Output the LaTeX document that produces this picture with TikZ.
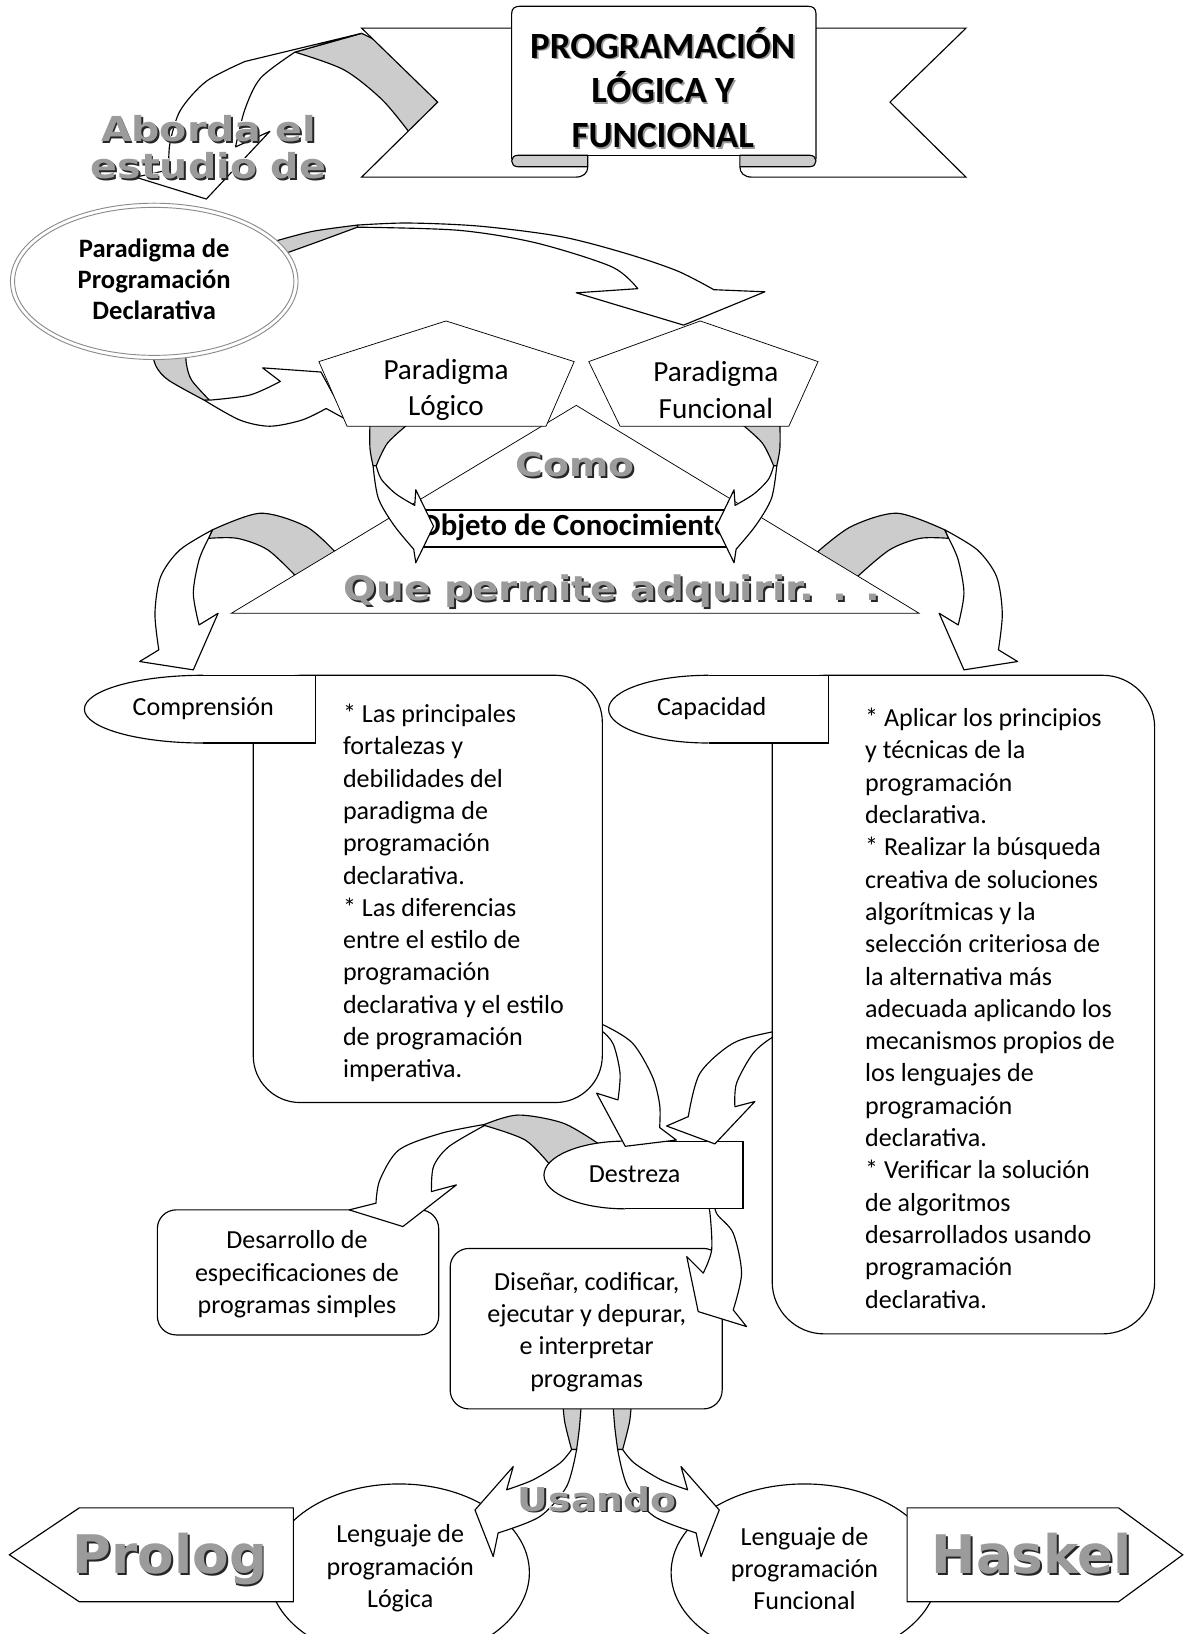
\documentclass[tikz,border=0pt]{standalone}
\usepackage{fontspec}
\setmainfont{Carlito}
\newfontfamily\wafont{DejaVu Sans}
\newfontfamily\wafontw[FakeStretch=1.15]{DejaVu Sans}
\definecolor{facegrey}{RGB}{204,204,204}
\definecolor{wagrey}{RGB}{155,155,155}
\tikzset{
  greyface/.style={fill=facegrey, draw=black, line width=1.1pt, line join=round},
  frontface/.style={fill=white, draw=black, line width=1.1pt, line join=round},
  thinshape/.style={fill=white, draw=black, line width=0.7pt},
  boxshape/.style={fill=white, draw=black, line width=1.1pt},
  bodytext/.style={font=\fontsize{25}{31}\selectfont, inner sep=0pt},
  penttext/.style={font=\fontsize{28}{35}\selectfont, inner sep=0pt, align=center},
  boldtext/.style={font=\bfseries\fontsize{25.5}{29.5}\selectfont, inner sep=0pt, align=center},
  titletext/.style={font=\bfseries\fontsize{35.5}{43}\selectfont, inner sep=0pt, align=center},
}
% #1 name, #2 base point, #3 size, #4 text, #5 font family
\newcommand\wart[5]{%
  \node[font=#5\bfseries\fontsize{#3}{#3}\selectfont, text=white, inner sep=0pt, anchor=base, xshift=-0.8pt, yshift=0.8pt] (#1-h) at #2 {#4};
  \node[font=#5\bfseries\fontsize{#3}{#3}\selectfont, text=black!85, inner sep=0pt, anchor=base, xshift=1.8pt, yshift=-1.8pt] (#1-s) at #2 {#4};
  \node[font=#5\bfseries\fontsize{#3}{#3}\selectfont, text=wagrey, inner sep=0pt, anchor=base] (#1) at #2 {#4};
}
\begin{document}
\begin{tikzpicture}[x=1pt,y=-1pt]
\useasboundingbox (0,0) rectangle (1137,1568);
\fill[white] (0,0) rectangle (1137,1568);

% ---------- arrow 1: title -> ellipse
\filldraw[greyface] plot[smooth] coordinates {(283,50) (330,67) (367,96) (395,130)} -- (425,96)
  -- plot[smooth] coordinates {(425,96) (386,54) (347,32)} -- cycle;
\filldraw[frontface] (347,32) -- plot[smooth] coordinates {(235,59) (198,78) (173,106) (163,138) (162,163)}
  -- (130,170) -- (198,191) -- (259,126)
  -- plot[smooth] coordinates {(226,141) (235,105) (250,75) (283,50)} -- cycle;

% ---------- ribbon
\draw[boxshape] (491,27) -- (347,27) -- (420,98) -- (347,170) -- (552,170) .. controls (560,170) and (564,166) .. (564,160);
\draw[boxshape] (783,27) -- (927,27) -- (854,98) -- (927,170) -- (722,170) .. controls (714,170) and (710,166) .. (710,160);
\draw[boxshape] (491,153) -- (491,13) .. controls (491,8) and (494,6) .. (499,6) -- (775,6)
  .. controls (780,6) and (783,8) .. (783,13) -- (783,153);
\draw[line width=1.1pt] (564,149) -- (710,149);
\filldraw[greyface] (564,149) -- (497,149) .. controls (489,149) and (489,160) .. (497,160) -- (564,160) -- cycle;
\filldraw[greyface] (710,149) -- (777,149) .. controls (785,149) and (785,160) .. (777,160) -- (710,160) -- cycle;
\node[titletext, text=black!40, xshift=1.6pt, yshift=-1.6pt] (title-s) at (636,84) {PROGRAMACIÓN\\LÓGICA Y\\FUNCIONAL};
\node[titletext] (title) at (636,84) {PROGRAMACIÓN\\LÓGICA Y\\FUNCIONAL};

% ---------- arrows 2 and 3 from the ellipse
\filldraw[greyface] plot[smooth] coordinates {(262,232) (300,222) (343,216)} -- (343,218)
  -- plot[smooth] coordinates {(343,218) (305,232) (266,246)} -- cycle;
\filldraw[frontface] plot[smooth] coordinates {(343,216) (391,214) (460,217) (538,227) (600,243) (650,260) (685,278)}
  -- (734,280) -- (656,312) -- (553,281)
  -- plot[smooth] coordinates {(612,277) (587,256) (514,233) (440,221) (343,218)} -- cycle;
\filldraw[greyface] plot[smooth] coordinates {(145,335) (150,352) (162,365) (196,384)} -- (201,384)
  -- plot[smooth] coordinates {(201,384) (184,365) (179,350) (178,335)} -- cycle;
\filldraw[frontface] plot[smooth] coordinates {(196,384) (230,403) (259,409) (290,403) (313,392)}
  -- (333,403) -- (308,357) -- (252,353)
  -- plot[smooth] coordinates {(269,366) (240,379) (201,384)} -- cycle;

% ---------- ellipse Paradigma declarativa
\draw[fill=white, draw=black!45, line width=0.9pt] (148,270) ellipse [x radius=138pt, y radius=75pt];
\draw[draw=black!45, line width=0.9pt] (148,270) ellipse [x radius=134pt, y radius=71pt];
\node[boldtext] (decl) at (148,268) {Paradigma de\\Programación\\Declarativa};

% ---------- arrows 6 and 7 from the triangle
\filldraw[greyface] plot[smooth] coordinates {(203.8,508.5) (249.7,492.5) (293.8,505.3) (322,530)} -- (285,554)
  -- plot[smooth] coordinates {(285,554) (257,527.7) (227.7,516.6) (200.1,516.6)} -- cycle;
\filldraw[frontface] plot[smooth] coordinates {(203.8,508.5) (172.6,527.7) (154.2,553.3) (148.7,588.5) (152.4,623.6)}
  -- (134,634.8) -- (185.5,642.8) -- (209.3,588.5)
  -- plot[smooth] coordinates {(191,599.7) (185.5,569.3) (191,537.3) (200.1,516.6)} -- cycle;
\filldraw[greyface] plot[smooth] coordinates {(906.7,508.5) (860.8,492.5) (816.7,505.3) (784,530)} -- (822,554)
  -- plot[smooth] coordinates {(822,554) (853.5,527.7) (882.8,516.6) (910.4,516.6)} -- cycle;
\filldraw[frontface] plot[smooth] coordinates {(906.7,508.5) (937.9,527.7) (956.3,553.3) (961.8,588.5) (958.1,623.6)}
  -- (976.5,634.8) -- (925,642.8) -- (901.2,588.5)
  -- plot[smooth] coordinates {(919.5,599.7) (925,569.3) (919.5,537.3) (910.4,516.6)} -- cycle;

% ---------- triangle and object box
\draw[thinshape] (553,389) -- (882,588.5) -- (222,588.5) -- cycle;
\draw[fill=white, line width=1.8pt] (405,489) rectangle (698,525);
\node[font=\bfseries\fontsize{29.5}{30}\selectfont, inner sep=0pt] (objeto) at (552,506) {Objeto de Conocimiento};

% ---------- loops (Como)
\filldraw[greyface] plot[smooth] coordinates {(355,405) (355,430) (358,447)}
  -- plot[smooth] coordinates {(361,447) (372,425) (394,405)} -- cycle;
\filldraw[frontface] plot[smooth] coordinates {(358,447) (363,478) (378,504) (397,527)}
  -- (399,540) -- (416,505) -- (399,470)
  -- plot[smooth] coordinates {(398,485) (380,474) (366,460) (361,447)} -- cycle;
\filldraw[greyface] plot[smooth] coordinates {(748.4,405) (748.4,430) (745.4,447)}
  -- plot[smooth] coordinates {(742.4,447) (731.4,425) (709.4,405)} -- cycle;
\filldraw[frontface] plot[smooth] coordinates {(745.4,447) (740.4,478) (725.4,504) (706.4,527)}
  -- (704.4,540) -- (687.4,505) -- (704.4,470)
  -- plot[smooth] coordinates {(705.4,485) (723.4,474) (737.4,460) (742.4,447)} -- cycle;

% ---------- pentagons
\draw[thinshape] (306,347) -- (428,308) -- (551,347) -- (524,409) -- (333,409) -- cycle;
\draw[thinshape] (565,347) -- (672,308) -- (785,347) -- (757,409) -- (595,409) -- cycle;
\node[penttext] (plogico) at (428,374) {Paradigma\\Lógico};
\node[penttext] (pfuncional) at (687,374) {Paradigma\\Funcional};

% ---------- lower ellipses
\draw[boxshape] (383,1509) ellipse [x radius=125pt, y radius=85pt];
\draw[boxshape] (772,1509) ellipse [x radius=128pt, y radius=85pt];

% ---------- arrows 12 and 13
\filldraw[greyface] plot[smooth] coordinates {(540,1345) (542,1365) (548.5,1391)} -- (553.3,1391)
  -- plot[smooth] coordinates {(553.3,1391) (556,1370) (558,1345)} -- cycle;
\filldraw[frontface] plot[smooth] coordinates {(553.3,1391) (543.7,1426.5) (518,1455.3) (478,1471)}
  -- (473.3,1493.7) -- (455.8,1449) -- (492.5,1407.3)
  -- plot[smooth] coordinates {(486.2,1429.6) (511.7,1420) (537.3,1404) (548.5,1391)} -- cycle;
\filldraw[greyface] plot[smooth] coordinates {(606,1345) (604,1365) (597.5,1391)} -- (592.7,1391)
  -- plot[smooth] coordinates {(592.7,1391) (590,1370) (588,1345)} -- cycle;
\filldraw[frontface] plot[smooth] coordinates {(592.7,1391) (602.3,1426.5) (628,1455.3) (668,1471)}
  -- (672.7,1493.7) -- (690.2,1449) -- (653.5,1407.3)
  -- plot[smooth] coordinates {(659.8,1429.6) (634.3,1420) (608.7,1404) (597.5,1391)} -- cycle;

% ---------- boxes Diseñar and Desarrollo
\draw[boxshape, rounded corners=18pt] (432,1198) rectangle (693,1352);
\draw[boxshape, rounded corners=18pt] (151,1161) rectangle (421,1281);

% ---------- arrows c and d from Destreza
\filldraw[greyface] plot[smooth] coordinates {(465,1079) (497,1070) (541,1078) (578,1100)} -- (528,1118)
  -- plot[smooth] coordinates {(528,1118) (504,1094) (465,1080)} -- cycle;
\filldraw[frontface] plot[smooth] coordinates {(465,1079) (423.3,1087.5) (382.9,1103.4) (364.5,1132.3) (360.8,1154.6)}
  -- (335,1161) -- (386.6,1177) -- (438,1137)
  -- plot[smooth] coordinates {(414,1143.4) (416,1119.4) (430.7,1100.3) (465,1080)} -- cycle;
\filldraw[frontface] plot[smooth] coordinates {(684,1150) (688,1165) (703.6,1183.4) (711.6,1221.7) (703.6,1257)}
  -- (716.4,1273) -- (670,1258.6) -- (659,1205.8)
  -- plot[smooth] coordinates {(674.8,1221.7) (682.9,1199.4) (681.3,1164.2) (678,1150)} -- cycle;

% ---------- Destreza shape
\begin{scope}
  \clip (500,1080) rectangle (600,1180);
  \draw[boxshape] (600,1127.5) ellipse [x radius=78pt, y radius=32.5pt];
\end{scope}
\draw[boxshape] (600,1095) -- (713,1095) -- (713,1160) -- (600,1160);

% ---------- arrows A and b into Destreza
\filldraw[frontface] plot[smooth] coordinates {(568,982) (579,983.5) (607,1001) (626,1033) (633,1060) (633,1082)}
  -- (649,1094) -- (600,1100) -- (572.5,1049)
  -- plot[smooth] coordinates {(593,1055.5) (595,1030) (588.5,1002) (577,989) (568,988)} -- cycle;
\filldraw[frontface] plot[smooth] coordinates {(752,990) (742,990) (703.6,1001) (671.6,1030) (660.5,1071.5)}
  -- (639.7,1080.5) -- (686,1097.7) -- (724.4,1057)
  -- plot[smooth] coordinates {(705.2,1062) (706.8,1039.4) (722.8,1010.6) (742,995) (752,995)} -- cycle;

% ---------- Comprension and Capacidad
\draw[boxshape, rounded corners=45pt] (243,648) rectangle (578,1058);
\begin{scope}
  \clip (60,600) rectangle (195,760);
  \draw[boxshape] (195,680.5) ellipse [x radius=114pt, y radius=32.5pt];
\end{scope}
\draw[boxshape] (195,648) -- (303,648) -- (303,713) -- (195,713);
\draw[boxshape, rounded corners=50pt] (741,648) rectangle (1108,1280);
\begin{scope}
  \clip (560,600) rectangle (680,760);
  \draw[boxshape] (680,680.5) ellipse [x radius=96pt, y radius=32.5pt];
\end{scope}
\draw[boxshape] (680,648) -- (795,648) -- (795,713) -- (680,713);

% ---------- Prolog / Haskel shapes
\draw[boxshape] (9,1492) -- (76,1447) -- (281.5,1447) -- (281.5,1537) -- (76,1537) -- cycle;
\draw[boxshape] (870.5,1447) -- (1073.4,1447) -- (1135,1492) -- (1073.4,1537) -- (870.5,1537) -- cycle;

% ---------- texts
\node[bodytext] (comp) at (195,680) {Comprensión};
\node[bodytext] (capa) at (683,680) {Capacidad};
\node[bodytext] (destreza) at (609,1127) {Destreza};
\node[bodytext, anchor=west, align=left] (comptext) at (329,857) {* Las principales\\fortalezas y\\debilidades del\\paradigma de\\programación\\declarativa.\\* Las diferencias\\entre el estilo de\\programación\\declarativa y el estilo\\de programación\\imperativa.};
\node[bodytext, anchor=west, align=left] (captext) at (830,967.5) {* Aplicar los principios\\y técnicas de la\\programación\\declarativa.\\* Realizar la búsqueda\\creativa de soluciones\\algorítmicas y la\\selección criteriosa de\\la alternativa más\\adecuada aplicando los\\mecanismos propios de\\los lenguajes de\\programación\\declarativa.\\* Verificar la solución\\de algoritmos\\desarrollados usando\\programación\\declarativa.};
\node[bodytext, align=center] (desarrollo) at (285,1223) {Desarrollo de\\especificaciones de\\programas simples};
\node[bodytext, align=center] (disenar) at (563,1278) {Diseñar, codificar,\\ejecutar y depurar,\\e interpretar\\programas};
\node[bodytext, align=center] (leng1) at (384,1505) {Lenguaje de\\programación\\Lógica};
\node[bodytext, align=center] (leng2) at (772,1505) {Lenguaje de\\programación\\Funcional};

\wart{aborda}{(200,136)}{33}{Aborda el}{\wafontw}
\wart{estudio}{(200,171)}{33}{estudio de}{\wafontw}
\wart{como}{(552,457)}{31.5}{Como}{\wafontw}
\wart{que}{(587,576)}{32.5}{Que permite adquirir. . .}{\wafontw}
\wart{usando}{(573,1450)}{31.5}{Usando}{\wafontw}
\wart{prolog}{(163,1510)}{51}{Prolog}{\wafont}
\wart{haskel}{(990,1510)}{51}{Haskel}{\wafont}
\end{tikzpicture}
\end{document}
